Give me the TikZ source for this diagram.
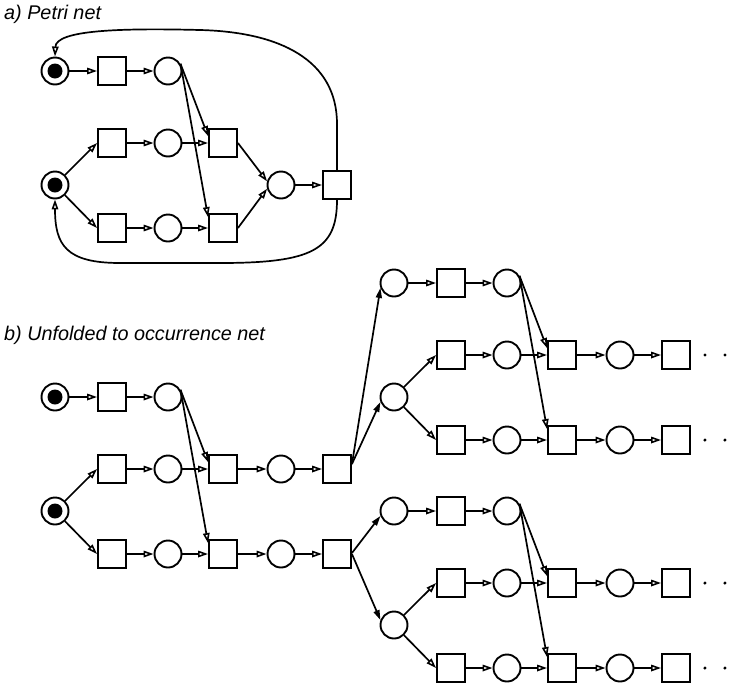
\documentclass[tikz,border=0pt]{standalone}
\usepackage{fontspec}
\setmainfont{Liberation Sans}
\usetikzlibrary{arrows.meta}

\tikzset{
  place/.style={circle, draw, line width=1.9pt, minimum size=27pt, inner sep=0pt},
  marked/.style={place, path picture={\fill[black] (path picture bounding box.center) circle[radius=7.5pt];}},
  trans/.style={rectangle, draw, line width=1.9pt, minimum size=28pt, inner sep=0pt},
  arc/.style={line width=1.7pt, -{Triangle[open, length=10pt, width=6.5pt, line width=1.6pt]}},
  farc/.style={line width=1.7pt, -{Triangle[length=10pt, width=6pt]}},
  caption/.style={anchor=base west, inner sep=0pt, font=\fontsize{19.8}{24}\selectfont\itshape},
  more/.style={circle, fill, inner sep=0pt, minimum size=3.4pt}
}

% One fork/join block: start place, upper row, lower start place,
% two parallel branches and the cross arcs into their second transitions.
\newcommand{\netblock}[4]{%
  \node[#4]    (#1p0) at (#2,#3) {};
  \node[trans] (#1t1) at (#2+57,#3) {};
  \node[place] (#1p1) at (#2+113,#3) {};
  \node[trans] (#1u1) at (#2+57,#3+72) {};
  \node[place] (#1u2) at (#2+113,#3+72) {};
  \node[trans] (#1u3) at (#2+168,#3+72) {};
  \node[#4]    (#1q)  at (#2,#3+114) {};
  \node[trans] (#1l1) at (#2+57,#3+157) {};
  \node[place] (#1l2) at (#2+113,#3+157) {};
  \node[trans] (#1l3) at (#2+168,#3+157) {};
  \draw[arc] (#1p0) -- (#1t1);
  \draw[arc] (#1t1) -- (#1p1);
  \draw[arc] (#1p1.30) -- ([yshift=-8pt]#1u3.north west);
  \draw[arc] (#1p1.30) -- ([yshift=-4pt]#1l3.north west);
  \draw[arc] (#1q) -- (#1u1.west);
  \draw[arc] (#1q) -- (#1l1.west);
  \draw[arc] (#1u1) -- (#1u2);
  \draw[arc] (#1u2) -- (#1u3);
  \draw[arc] (#1l1) -- (#1l2);
  \draw[arc] (#1l2) -- (#1l3);
}

% Separate continuation of both branches (unfolded form).
\newcommand{\blocktail}[3]{%
  \node[place] (#1u4) at (#2+226,#3+72) {};
  \node[trans] (#1u5) at (#2+282,#3+72) {};
  \node[place] (#1l4) at (#2+226,#3+157) {};
  \node[trans] (#1l5) at (#2+282,#3+157) {};
  \draw[arc] (#1u3) -- (#1u4);
  \draw[arc] (#1u4) -- (#1u5);
  \draw[arc] (#1l3) -- (#1l4);
  \draw[arc] (#1l4) -- (#1l5);
}

% Trailing dots after an open-ended transition.
\newcommand{\trail}[1]{%
  \node[more] (#1da) at ([xshift=14pt]#1.east) {};
  \node[more] (#1db) at ([xshift=34pt]#1.east) {};
}

\begin{document}
\begin{tikzpicture}[x=1pt, y=-1pt]
  \useasboundingbox (0,0) rectangle (742,686);

  % ---------- a) Petri net ----------
  \node[caption] (capa) at (4,19) {a) Petri net};
  \netblock{a}{55}{71}{marked}
  \node[place] (aM) at (281,185) {};
  \node[trans] (aF) at (337,185) {};
  \draw[arc] (au3.east) -- (aM.165);
  \draw[arc] (al3.east) -- (aM.195);
  \draw[arc] (aM) -- (aF);
  % feedback arcs back to the two initial places
  \draw[arc] (aF.north) -- (337,124)
        .. controls (337,60) and (280,32) .. (200,30)
        .. controls (120,28) and (56,30) .. (ap0.north);
  \draw[arc] (aF.south)
        .. controls (337,250) and (312,263) .. (220,263) -- (120,263)
        .. controls (66,263) and (55,245) .. (aq.south);

  % ---------- b) Unfolded to occurrence net ----------
  \node[caption] (capb) at (4,340) {b) Unfolded to occurrence net};
  \netblock{b}{55}{397}{marked}
  \blocktail{b}{55}{397}

  \netblock{c}{394}{283}{place}
  \blocktail{c}{394}{283}
  \netblock{d}{394}{511}{place}
  \blocktail{d}{394}{511}

  \draw[farc] ([yshift=5pt]bu5.east) -- (cp0.200);
  \draw[farc] ([yshift=5pt]bu5.east) -- (cq.200);
  \draw[farc] ([yshift=1pt]bl5.east) -- (dp0.200);
  \draw[farc] (bl5.east) -- (dq.160);

  \trail{cu5}
  \trail{cl5}
  \trail{du5}
  \trail{dl5}
\end{tikzpicture}
\end{document}
